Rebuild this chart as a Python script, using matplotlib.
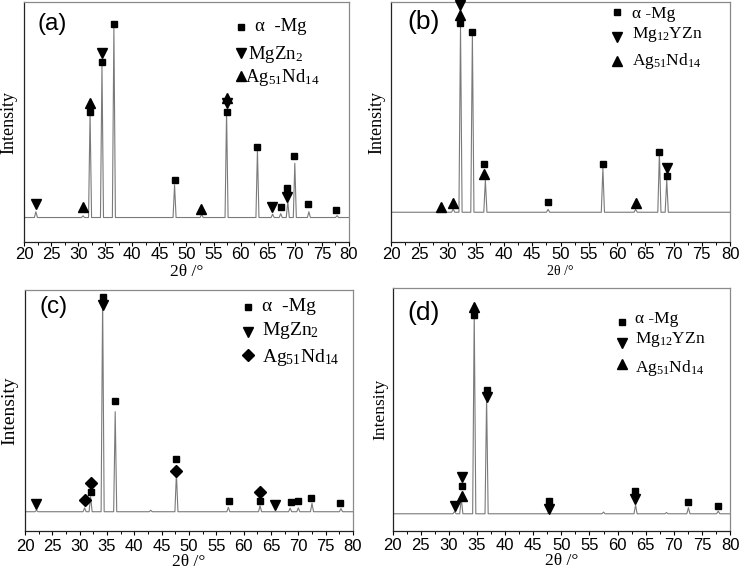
import matplotlib
matplotlib.use('Agg')
import matplotlib.pyplot as plt
from matplotlib.ticker import MultipleLocator

plt.rcParams['mathtext.fontset'] = 'custom'
plt.rcParams['mathtext.rm'] = 'Liberation Serif'
plt.rcParams['mathtext.it'] = 'Liberation Serif:italic'

# ---------------- data (intensity in 0-100 axis units) ----------------
# panel (a)
a_base = 10.2
a_peak_pos = [22.2, 30.9, 32.2, 34.4, 36.6, 47.8, 52.8, 57.4, 63.1, 65.9, 67.4, 68.7, 70.0, 72.6, 77.8]
a_peak_h = [12.6, 10.9, 53.7, 73.8, 89.7, 23.8, 11.6, 54.3, 38.3, 11.6, 11.8, 16.8, 32.8, 12.6, 11.0]
a_sq_x = [32.2, 34.4, 36.6, 47.8, 57.4, 63.0, 67.4, 68.6, 69.9, 72.5, 77.6]
a_sq_y = [54.0, 74.9, 91.0, 25.7, 54.0, 39.7, 14.6, 22.6, 36.0, 15.7, 13.5]
a_dn_x = [22.2, 34.4, 57.4, 65.8, 68.6]
a_dn_y = [15.8, 78.9, 57.8, 14.4, 18.6]
a_up_x = [30.9, 32.2, 52.7, 57.4]
a_up_y = [14.7, 58.0, 13.8, 60.1]
a_legend = ['α  -Mg', r'MgZn$_2$', r'Ag$_{51}$Nd$_{14}$']

# panel (b)
b_base = 12.4
b_peak_pos = [28.9, 31.0, 32.3, 34.4, 36.7, 47.8, 57.5, 63.3, 67.5, 68.8]
b_peak_h = [13.0, 13.8, 90.0, 87.0, 25.8, 13.6, 30.8, 13.6, 37.0, 25.8]
b_sq_x = [32.2, 34.4, 36.5, 47.8, 57.5, 67.4, 68.8]
b_sq_y = [91.4, 87.6, 32.5, 16.8, 32.4, 37.6, 27.5]
b_dn_x = [32.2, 68.8]
b_dn_y = [98.7, 31.0]
b_up_x = [28.9, 31.0, 32.2, 36.5, 63.3]
b_up_y = [14.7, 16.4, 94.6, 28.2, 16.1]
b_legend = ['α -Mg', r'Mg$_{12}$YZn', r'Ag$_{51}$Nd$_{14}$']

# panel (c)
c_base = 8.0
c_peak_pos = [22.1, 30.9, 32.0, 34.2, 36.5, 43.0, 47.7, 57.2, 63.0, 68.5, 70.0, 72.5, 77.8]
c_peak_h = [8.6, 9.6, 14.2, 96.5, 49.5, 8.6, 24.0, 9.8, 10.5, 9.5, 9.6, 11.5, 9.3]
c_sq_x = [32.0, 34.2, 36.5, 47.6, 57.3, 63.0, 68.6, 69.9, 72.4, 77.7]
c_sq_y = [16.3, 97.2, 53.9, 29.9, 12.4, 12.4, 11.9, 12.4, 13.6, 11.5]
c_dn_x = [22.1, 34.2, 65.8]
c_dn_y = [11.1, 93.8, 10.8]
c_di_x = [31.0, 32.0, 47.6, 63.0]
c_di_y = [12.9, 20.0, 25.0, 16.0]
c_legend = ['α  -Mg', r'MgZn$_2$', r'Ag$_{51}$Nd$_{14}$']

# panel (d)
d_base = 7.1
d_peak_pos = [31.0, 32.2, 34.5, 36.7, 47.8, 57.5, 63.2, 68.7, 72.6, 77.9]
d_peak_h = [8.0, 13.5, 90.4, 54.7, 7.8, 7.8, 10.7, 7.6, 9.6, 8.2]
d_sq_x = [32.3, 34.5, 36.7, 47.8, 63.1, 72.5, 77.9]
d_sq_y = [18.7, 89.0, 58.1, 12.4, 16.6, 11.8, 10.4]
d_dn_x = [31.1, 32.3, 36.7, 47.8, 63.1]
d_dn_y = [10.3, 22.1, 55.1, 9.1, 13.0]
d_up_x = [32.3, 34.5]
d_up_y = [14.4, 92.2]
d_legend = ['α -Mg', r'Mg$_{12}$YZn', r'Ag$_{51}$Nd$_{14}$']


def trace(pos, height, base, hw=0.28):
    # XRD pattern drawn as a flat baseline with a narrow spike at each peak
    x = [20.0]
    y = [base]
    for p, h in sorted(zip(pos, height)):
        x += [p - hw, p, p + hw]
        y += [base, h, base]
    x.append(80.0)
    y.append(base)
    return x, y


def setup(ax, label, lab_xy, lab_size, tick_pad, xlab_y, xlab_size, ylab_x, ylab_size):
    ax.set_xlim(20, 80)
    ax.set_ylim(0, 100)
    ax.xaxis.set_major_locator(MultipleLocator(5))
    ax.xaxis.set_minor_locator(MultipleLocator(2.5))
    ax.tick_params(axis='x', which='major', direction='out', length=3, width=0.8,
                   pad=tick_pad, labelsize=12)
    ax.tick_params(axis='x', which='minor', direction='out', length=2, width=0.7)
    for t in ax.get_xticklabels():
        t.set_fontfamily('Liberation Sans')
    ax.set_yticks([])
    for s in ['left', 'bottom']:
        ax.spines[s].set_color('#222222')
        ax.spines[s].set_linewidth(0.9)
    for s in ['top', 'right']:
        ax.spines[s].set_color('#8a8a8a')
        ax.spines[s].set_linewidth(0.9)
    ax.set_xlabel('2θ /°', family='Liberation Serif', fontsize=xlab_size)
    ax.xaxis.set_label_coords(0.5, xlab_y)
    ax.xaxis.label.set_va('top')
    ax.set_ylabel('Intensity', family='Liberation Serif', fontsize=ylab_size)
    ax.yaxis.set_label_coords(ylab_x, 0.5)
    ax.yaxis.label.set_va('center')
    ax.text(lab_xy[0], lab_xy[1], label, transform=ax.transAxes, ha='center', va='center',
            family='Liberation Sans', fontsize=lab_size)


def marks(ax, xs, ys, m, ms):
    ax.plot(xs, ys, ls='none', marker=m, ms=ms, color='black', clip_on=False, zorder=3)


def legend(ax, texts, mk, mx, tx, rows, size):
    for t, m, (my, ty), x_t in zip(texts, mk, rows, tx):
        ax.plot([mx], [my], ls='none', marker=m[0], ms=m[1], color='black',
                transform=ax.transAxes, clip_on=False)
        ax.text(x_t, ty, t, transform=ax.transAxes, ha='left', va='baseline',
                family='Liberation Serif', fontsize=size)


fig = plt.figure(figsize=(7.4, 5.74), dpi=100)

line_kw = dict(color='#7a7a7a', lw=0.8)

# (a)
ax = fig.add_axes([0.0324, 0.5784, 0.4392, 0.4181])
ax.plot(*trace(a_peak_pos, a_peak_h, a_base), **line_kw)
marks(ax, a_sq_x, a_sq_y, 's', 5)
marks(ax, a_dn_x, a_dn_y, 'v', 6.5)
marks(ax, a_up_x, a_up_y, '^', 6.5)
setup(ax, '(a)', (0.086, 0.91), 17.5, 0.5, -0.09, 12.5, -0.045, 13)
legend(ax, a_legend, [('s', 5), ('v', 6.5), ('^', 6.5)], 0.669, [0.711, 0.689, 0.68],
       [(0.896, 0.879), (0.787, 0.7625), (0.69, 0.667)], 13.5)

# (b)
ax = fig.add_axes([0.5284, 0.5784, 0.4581, 0.4181])
ax.plot(*trace(b_peak_pos, b_peak_h, b_base), **line_kw)
marks(ax, b_sq_x, b_sq_y, 's', 5)
marks(ax, b_dn_x, b_dn_y, 'v', 6.5)
marks(ax, b_up_x, b_up_y, '^', 6.5)
setup(ax, '(b)', (0.097, 0.917), 19, 0.5, -0.096, 10, -0.042, 13)
legend(ax, b_legend, [('s', 5), ('v', 6.5), ('^', 6.5)], 0.666, [0.71, 0.71, 0.71],
       [(0.957, 0.935), (0.855, 0.848), (0.754, 0.7375)], 12.5)

# (c)
ax = fig.add_axes([0.0338, 0.0749, 0.4432, 0.4199])
ax.plot(*trace(c_peak_pos, c_peak_h, c_base), **line_kw)
marks(ax, c_sq_x, c_sq_y, 's', 5)
marks(ax, c_dn_x, c_dn_y, 'v', 6.5)
marks(ax, c_di_x, c_di_y, 'D', 6)
setup(ax, '(c)', (0.087, 0.93), 17.5, 2.5, -0.096, 12.5, -0.046, 14)
legend(ax, c_legend, [('s', 5), ('v', 6.5), ('D', 6)], 0.681, [0.722, 0.722, 0.722],
       [(0.931, 0.911), (0.827, 0.813), (0.73, 0.7025)], 14)

# (d)
ax = fig.add_axes([0.5307, 0.0749, 0.4558, 0.4228])
ax.plot(*trace(d_peak_pos, d_peak_h, d_base), **line_kw)
marks(ax, d_sq_x, d_sq_y, 's', 5)
marks(ax, d_dn_x, d_dn_y, 'v', 6.5)
marks(ax, d_up_x, d_up_y, '^', 6.5)
setup(ax, '(d)', (0.09, 0.90), 19, 2, -0.09, 12.5, -0.036, 12.5)
legend(ax, d_legend, [('s', 5), ('v', 6.5), ('^', 6.5)], 0.681, [0.718, 0.718, 0.718],
       [(0.862, 0.857), (0.773, 0.773), (0.687, 0.654)], 12.5)

fig.savefig('out.png', dpi=100)
